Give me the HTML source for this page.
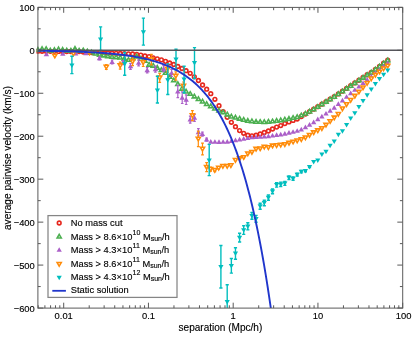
<!DOCTYPE html>
<html><head><meta charset="utf-8"><title>Average pairwise velocity</title><style>html,body{margin:0;padding:0;background:#fff;}body{width:415px;height:338px;overflow:hidden;font-family:"Liberation Sans",sans-serif;}svg{display:block;will-change:transform;}</style></head><body>
<svg width="415" height="338" viewBox="0 0 415 338" font-family="Liberation Sans, sans-serif" fill="#000"><style>text{stroke:#000;stroke-width:0.13px;}</style><defs><clipPath id="cp"><rect x="36.4" y="7.4" width="366.3" height="300.70000000000005"/></clipPath></defs><rect width="415" height="338" fill="#fff"/><g clip-path="url(#cp)">
<circle cx="37.95" cy="51.2" r="1.85" fill="#fff" stroke="#e6281e" stroke-width="1.6"/>
<circle cx="42.07" cy="51.24" r="1.85" fill="#fff" stroke="#e6281e" stroke-width="1.6"/>
<circle cx="46.18" cy="51.28" r="1.85" fill="#fff" stroke="#e6281e" stroke-width="1.6"/>
<circle cx="50.3" cy="51.32" r="1.85" fill="#fff" stroke="#e6281e" stroke-width="1.6"/>
<circle cx="54.41" cy="51.36" r="1.85" fill="#fff" stroke="#e6281e" stroke-width="1.6"/>
<circle cx="58.53" cy="51.4" r="1.85" fill="#fff" stroke="#e6281e" stroke-width="1.6"/>
<circle cx="62.64" cy="51.44" r="1.85" fill="#fff" stroke="#e6281e" stroke-width="1.6"/>
<circle cx="66.75" cy="51.48" r="1.85" fill="#fff" stroke="#e6281e" stroke-width="1.6"/>
<circle cx="70.87" cy="51.52" r="1.85" fill="#fff" stroke="#e6281e" stroke-width="1.6"/>
<circle cx="74.99" cy="51.56" r="1.85" fill="#fff" stroke="#e6281e" stroke-width="1.6"/>
<circle cx="79.1" cy="51.6" r="1.85" fill="#fff" stroke="#e6281e" stroke-width="1.6"/>
<circle cx="83.22" cy="52" r="1.85" fill="#fff" stroke="#e6281e" stroke-width="1.6"/>
<circle cx="87.33" cy="52.4" r="1.85" fill="#fff" stroke="#e6281e" stroke-width="1.6"/>
<circle cx="91.45" cy="52.55" r="1.85" fill="#fff" stroke="#e6281e" stroke-width="1.6"/>
<circle cx="95.56" cy="52.7" r="1.85" fill="#fff" stroke="#e6281e" stroke-width="1.6"/>
<circle cx="99.68" cy="52.85" r="1.85" fill="#fff" stroke="#e6281e" stroke-width="1.6"/>
<circle cx="103.79" cy="53" r="1.85" fill="#fff" stroke="#e6281e" stroke-width="1.6"/>
<circle cx="107.91" cy="53.12" r="1.85" fill="#fff" stroke="#e6281e" stroke-width="1.6"/>
<circle cx="112.02" cy="53.25" r="1.85" fill="#fff" stroke="#e6281e" stroke-width="1.6"/>
<circle cx="116.14" cy="53.38" r="1.85" fill="#fff" stroke="#e6281e" stroke-width="1.6"/>
<circle cx="120.25" cy="53.5" r="1.85" fill="#fff" stroke="#e6281e" stroke-width="1.6"/>
<circle cx="124.37" cy="53.67" r="1.85" fill="#fff" stroke="#e6281e" stroke-width="1.6"/>
<circle cx="128.48" cy="53.83" r="1.85" fill="#fff" stroke="#e6281e" stroke-width="1.6"/>
<circle cx="132.6" cy="54" r="1.85" fill="#fff" stroke="#e6281e" stroke-width="1.6"/>
<circle cx="136.71" cy="54.4" r="1.85" fill="#fff" stroke="#e6281e" stroke-width="1.6"/>
<circle cx="140.82" cy="55.1" r="1.85" fill="#fff" stroke="#e6281e" stroke-width="1.6"/>
<circle cx="144.94" cy="56" r="1.85" fill="#fff" stroke="#e6281e" stroke-width="1.6"/>
<circle cx="149.06" cy="56.6" r="1.85" fill="#fff" stroke="#e6281e" stroke-width="1.6"/>
<circle cx="153.17" cy="57.8" r="1.85" fill="#fff" stroke="#e6281e" stroke-width="1.6"/>
<circle cx="157.29" cy="58.8" r="1.85" fill="#fff" stroke="#e6281e" stroke-width="1.6"/>
<circle cx="161.4" cy="59.9" r="1.85" fill="#fff" stroke="#e6281e" stroke-width="1.6"/>
<circle cx="165.52" cy="61.33" r="1.85" fill="#fff" stroke="#e6281e" stroke-width="1.6"/>
<circle cx="169.63" cy="62.95" r="1.85" fill="#fff" stroke="#e6281e" stroke-width="1.6"/>
<circle cx="173.75" cy="64.47" r="1.85" fill="#fff" stroke="#e6281e" stroke-width="1.6"/>
<circle cx="177.86" cy="66.5" r="1.85" fill="#fff" stroke="#e6281e" stroke-width="1.6"/>
<circle cx="181.98" cy="68.5" r="1.85" fill="#fff" stroke="#e6281e" stroke-width="1.6"/>
<circle cx="186.09" cy="70.7" r="1.85" fill="#fff" stroke="#e6281e" stroke-width="1.6"/>
<circle cx="190.2" cy="73.3" r="1.85" fill="#fff" stroke="#e6281e" stroke-width="1.6"/>
<circle cx="194.32" cy="76.8" r="1.85" fill="#fff" stroke="#e6281e" stroke-width="1.6"/>
<circle cx="198.44" cy="80.5" r="1.85" fill="#fff" stroke="#e6281e" stroke-width="1.6"/>
<circle cx="202.55" cy="85" r="1.85" fill="#fff" stroke="#e6281e" stroke-width="1.6"/>
<circle cx="206.67" cy="89.2" r="1.85" fill="#fff" stroke="#e6281e" stroke-width="1.6"/>
<circle cx="210.78" cy="93.7" r="1.85" fill="#fff" stroke="#e6281e" stroke-width="1.6"/>
<circle cx="214.9" cy="99.3" r="1.85" fill="#fff" stroke="#e6281e" stroke-width="1.6"/>
<circle cx="219.01" cy="105.7" r="1.85" fill="#fff" stroke="#e6281e" stroke-width="1.6"/>
<circle cx="223.12" cy="111.6" r="1.85" fill="#fff" stroke="#e6281e" stroke-width="1.6"/>
<circle cx="227.24" cy="117.3" r="1.85" fill="#fff" stroke="#e6281e" stroke-width="1.6"/>
<circle cx="231.36" cy="122.3" r="1.85" fill="#fff" stroke="#e6281e" stroke-width="1.6"/>
<circle cx="235.47" cy="126.7" r="1.85" fill="#fff" stroke="#e6281e" stroke-width="1.6"/>
<circle cx="239.59" cy="130.6" r="1.85" fill="#fff" stroke="#e6281e" stroke-width="1.6"/>
<circle cx="243.7" cy="133.3" r="1.85" fill="#fff" stroke="#e6281e" stroke-width="1.6"/>
<circle cx="247.81" cy="135.2" r="1.85" fill="#fff" stroke="#e6281e" stroke-width="1.6"/>
<circle cx="251.93" cy="135.8" r="1.85" fill="#fff" stroke="#e6281e" stroke-width="1.6"/>
<circle cx="256.05" cy="135.2" r="1.85" fill="#fff" stroke="#e6281e" stroke-width="1.6"/>
<circle cx="260.16" cy="134" r="1.85" fill="#fff" stroke="#e6281e" stroke-width="1.6"/>
<circle cx="264.28" cy="132.5" r="1.85" fill="#fff" stroke="#e6281e" stroke-width="1.6"/>
<circle cx="268.39" cy="131" r="1.85" fill="#fff" stroke="#e6281e" stroke-width="1.6"/>
<circle cx="272.5" cy="129" r="1.85" fill="#fff" stroke="#e6281e" stroke-width="1.6"/>
<circle cx="276.62" cy="127.1" r="1.85" fill="#fff" stroke="#e6281e" stroke-width="1.6"/>
<circle cx="280.74" cy="125.6" r="1.85" fill="#fff" stroke="#e6281e" stroke-width="1.6"/>
<circle cx="284.85" cy="123.6" r="1.85" fill="#fff" stroke="#e6281e" stroke-width="1.6"/>
<circle cx="288.97" cy="121.9" r="1.85" fill="#fff" stroke="#e6281e" stroke-width="1.6"/>
<circle cx="293.08" cy="120.4" r="1.85" fill="#fff" stroke="#e6281e" stroke-width="1.6"/>
<circle cx="297.19" cy="119" r="1.85" fill="#fff" stroke="#e6281e" stroke-width="1.6"/>
<circle cx="301.31" cy="116.51" r="1.85" fill="#fff" stroke="#e6281e" stroke-width="1.6"/>
<circle cx="305.43" cy="114.06" r="1.85" fill="#fff" stroke="#e6281e" stroke-width="1.6"/>
<circle cx="309.54" cy="111.54" r="1.85" fill="#fff" stroke="#e6281e" stroke-width="1.6"/>
<circle cx="313.66" cy="109.22" r="1.85" fill="#fff" stroke="#e6281e" stroke-width="1.6"/>
<circle cx="317.77" cy="106.72" r="1.85" fill="#fff" stroke="#e6281e" stroke-width="1.6"/>
<circle cx="321.88" cy="104.13" r="1.85" fill="#fff" stroke="#e6281e" stroke-width="1.6"/>
<circle cx="326" cy="101.53" r="1.85" fill="#fff" stroke="#e6281e" stroke-width="1.6"/>
<circle cx="330.12" cy="99.06" r="1.85" fill="#fff" stroke="#e6281e" stroke-width="1.6"/>
<circle cx="334.23" cy="96.57" r="1.85" fill="#fff" stroke="#e6281e" stroke-width="1.6"/>
<circle cx="338.35" cy="93.89" r="1.85" fill="#fff" stroke="#e6281e" stroke-width="1.6"/>
<circle cx="342.46" cy="91.21" r="1.85" fill="#fff" stroke="#e6281e" stroke-width="1.6"/>
<circle cx="346.57" cy="88.41" r="1.85" fill="#fff" stroke="#e6281e" stroke-width="1.6"/>
<circle cx="350.69" cy="85.6" r="1.85" fill="#fff" stroke="#e6281e" stroke-width="1.6"/>
<circle cx="354.81" cy="82.97" r="1.85" fill="#fff" stroke="#e6281e" stroke-width="1.6"/>
<circle cx="358.92" cy="80.23" r="1.85" fill="#fff" stroke="#e6281e" stroke-width="1.6"/>
<circle cx="363.04" cy="77.5" r="1.85" fill="#fff" stroke="#e6281e" stroke-width="1.6"/>
<circle cx="367.15" cy="74.76" r="1.85" fill="#fff" stroke="#e6281e" stroke-width="1.6"/>
<circle cx="371.26" cy="72.29" r="1.85" fill="#fff" stroke="#e6281e" stroke-width="1.6"/>
<circle cx="375.38" cy="69.36" r="1.85" fill="#fff" stroke="#e6281e" stroke-width="1.6"/>
<circle cx="379.5" cy="66.31" r="1.85" fill="#fff" stroke="#e6281e" stroke-width="1.6"/>
<circle cx="383.61" cy="63.25" r="1.85" fill="#fff" stroke="#e6281e" stroke-width="1.6"/>
<circle cx="387.73" cy="60.2" r="1.85" fill="#fff" stroke="#e6281e" stroke-width="1.6"/>
<path d="M37.95 47.58L40.05 51.21L35.85 51.21Z" fill="#fff" stroke="#4caf50" stroke-width="1.55" stroke-linejoin="miter"/>
<path d="M42.07 46.88L44.17 50.51L39.97 50.51Z" fill="#fff" stroke="#4caf50" stroke-width="1.55" stroke-linejoin="miter"/>
<path d="M46.18 46.88L48.28 50.51L44.08 50.51Z" fill="#fff" stroke="#4caf50" stroke-width="1.55" stroke-linejoin="miter"/>
<path d="M50.3 48.38L52.4 52.01L48.2 52.01Z" fill="#fff" stroke="#4caf50" stroke-width="1.55" stroke-linejoin="miter"/>
<path d="M54.41 47.88L56.51 51.51L52.31 51.51Z" fill="#fff" stroke="#4caf50" stroke-width="1.55" stroke-linejoin="miter"/>
<path d="M58.53 47.08L60.63 50.71L56.43 50.71Z" fill="#fff" stroke="#4caf50" stroke-width="1.55" stroke-linejoin="miter"/>
<path d="M62.64 47.58L64.74 51.21L60.54 51.21Z" fill="#fff" stroke="#4caf50" stroke-width="1.55" stroke-linejoin="miter"/>
<path d="M66.75 48.38L68.85 52.01L64.66 52.01Z" fill="#fff" stroke="#4caf50" stroke-width="1.55" stroke-linejoin="miter"/>
<path d="M70.87 48.48L72.97 52.11L68.77 52.11Z" fill="#fff" stroke="#4caf50" stroke-width="1.55" stroke-linejoin="miter"/>
<path d="M74.99 46.58L77.09 50.21L72.89 50.21Z" fill="#fff" stroke="#4caf50" stroke-width="1.55" stroke-linejoin="miter"/>
<path d="M79.1 48.48L81.2 52.11L77 52.11Z" fill="#fff" stroke="#4caf50" stroke-width="1.55" stroke-linejoin="miter"/>
<path d="M83.22 48.18L85.31 51.81L81.12 51.81Z" fill="#fff" stroke="#4caf50" stroke-width="1.55" stroke-linejoin="miter"/>
<path d="M87.33 49.18L89.43 52.81L85.23 52.81Z" fill="#fff" stroke="#4caf50" stroke-width="1.55" stroke-linejoin="miter"/>
<path d="M91.45 50.18L93.55 53.81L89.35 53.81Z" fill="#fff" stroke="#4caf50" stroke-width="1.55" stroke-linejoin="miter"/>
<path d="M95.56 51.33L97.66 54.96L93.46 54.96Z" fill="#fff" stroke="#4caf50" stroke-width="1.55" stroke-linejoin="miter"/>
<path d="M99.68 52.48L101.78 56.11L97.58 56.11Z" fill="#fff" stroke="#4caf50" stroke-width="1.55" stroke-linejoin="miter"/>
<path d="M103.79 53.23L105.89 56.86L101.69 56.86Z" fill="#fff" stroke="#4caf50" stroke-width="1.55" stroke-linejoin="miter"/>
<path d="M107.91 53.98L110 57.61L105.81 57.61Z" fill="#fff" stroke="#4caf50" stroke-width="1.55" stroke-linejoin="miter"/>
<path d="M112.02 54.68L114.12 58.31L109.92 58.31Z" fill="#fff" stroke="#4caf50" stroke-width="1.55" stroke-linejoin="miter"/>
<path d="M116.14 55.03L118.23 58.66L114.04 58.66Z" fill="#fff" stroke="#4caf50" stroke-width="1.55" stroke-linejoin="miter"/>
<path d="M120.25 55.38L122.35 59.01L118.15 59.01Z" fill="#fff" stroke="#4caf50" stroke-width="1.55" stroke-linejoin="miter"/>
<path d="M124.37 56.53L126.47 60.16L122.27 60.16Z" fill="#fff" stroke="#4caf50" stroke-width="1.55" stroke-linejoin="miter"/>
<path d="M128.48 57.68L130.58 61.31L126.38 61.31Z" fill="#fff" stroke="#4caf50" stroke-width="1.55" stroke-linejoin="miter"/>
<path d="M132.6 55.98L134.7 59.61L130.5 59.61Z" fill="#fff" stroke="#4caf50" stroke-width="1.55" stroke-linejoin="miter"/>
<path d="M136.71 54.28L138.81 57.91L134.61 57.91Z" fill="#fff" stroke="#4caf50" stroke-width="1.55" stroke-linejoin="miter"/>
<path d="M140.82 56.58L142.92 60.21L138.72 60.21Z" fill="#fff" stroke="#4caf50" stroke-width="1.55" stroke-linejoin="miter"/>
<path d="M144.94 58.58L147.04 62.21L142.84 62.21Z" fill="#fff" stroke="#4caf50" stroke-width="1.55" stroke-linejoin="miter"/>
<path d="M149.06 62.48L151.16 66.11L146.96 66.11Z" fill="#fff" stroke="#4caf50" stroke-width="1.55" stroke-linejoin="miter"/>
<path d="M153.17 63.48L155.27 67.11L151.07 67.11Z" fill="#fff" stroke="#4caf50" stroke-width="1.55" stroke-linejoin="miter"/>
<path d="M157.29 65.58L159.39 69.21L155.19 69.21Z" fill="#fff" stroke="#4caf50" stroke-width="1.55" stroke-linejoin="miter"/>
<path d="M161.4 67.78L163.5 71.41L159.3 71.41Z" fill="#fff" stroke="#4caf50" stroke-width="1.55" stroke-linejoin="miter"/>
<path d="M165.52 70.58L167.62 74.21L163.42 74.21Z" fill="#fff" stroke="#4caf50" stroke-width="1.55" stroke-linejoin="miter"/>
<path d="M169.63 74.58L171.73 78.21L167.53 78.21Z" fill="#fff" stroke="#4caf50" stroke-width="1.55" stroke-linejoin="miter"/>
<path d="M173.75 78.18L175.84 81.81L171.65 81.81Z" fill="#fff" stroke="#4caf50" stroke-width="1.55" stroke-linejoin="miter"/>
<path d="M177.86 81.88L179.96 85.51L175.76 85.51Z" fill="#fff" stroke="#4caf50" stroke-width="1.55" stroke-linejoin="miter"/>
<path d="M181.98 86.48L184.08 90.11L179.88 90.11Z" fill="#fff" stroke="#4caf50" stroke-width="1.55" stroke-linejoin="miter"/>
<path d="M186.09 89.28L188.19 92.91L183.99 92.91Z" fill="#fff" stroke="#4caf50" stroke-width="1.55" stroke-linejoin="miter"/>
<path d="M190.2 91.68L192.3 95.31L188.1 95.31Z" fill="#fff" stroke="#4caf50" stroke-width="1.55" stroke-linejoin="miter"/>
<path d="M194.32 94.23L196.42 97.86L192.22 97.86Z" fill="#fff" stroke="#4caf50" stroke-width="1.55" stroke-linejoin="miter"/>
<path d="M198.44 96.78L200.53 100.41L196.34 100.41Z" fill="#fff" stroke="#4caf50" stroke-width="1.55" stroke-linejoin="miter"/>
<path d="M202.55 99.28L204.65 102.91L200.45 102.91Z" fill="#fff" stroke="#4caf50" stroke-width="1.55" stroke-linejoin="miter"/>
<path d="M206.67 101.78L208.77 105.41L204.57 105.41Z" fill="#fff" stroke="#4caf50" stroke-width="1.55" stroke-linejoin="miter"/>
<path d="M210.78 104.08L212.88 107.71L208.68 107.71Z" fill="#fff" stroke="#4caf50" stroke-width="1.55" stroke-linejoin="miter"/>
<path d="M214.9 106.38L217 110.01L212.8 110.01Z" fill="#fff" stroke="#4caf50" stroke-width="1.55" stroke-linejoin="miter"/>
<path d="M219.01 108.28L221.11 111.91L216.91 111.91Z" fill="#fff" stroke="#4caf50" stroke-width="1.55" stroke-linejoin="miter"/>
<path d="M223.12 110.18L225.22 113.81L221.03 113.81Z" fill="#fff" stroke="#4caf50" stroke-width="1.55" stroke-linejoin="miter"/>
<path d="M227.24 112.23L229.34 115.86L225.14 115.86Z" fill="#fff" stroke="#4caf50" stroke-width="1.55" stroke-linejoin="miter"/>
<path d="M231.36 114.28L233.46 117.91L229.26 117.91Z" fill="#fff" stroke="#4caf50" stroke-width="1.55" stroke-linejoin="miter"/>
<path d="M235.47 115.38L237.57 119.01L233.37 119.01Z" fill="#fff" stroke="#4caf50" stroke-width="1.55" stroke-linejoin="miter"/>
<path d="M239.59 116.48L241.69 120.11L237.49 120.11Z" fill="#fff" stroke="#4caf50" stroke-width="1.55" stroke-linejoin="miter"/>
<path d="M243.7 117.53L245.8 121.16L241.6 121.16Z" fill="#fff" stroke="#4caf50" stroke-width="1.55" stroke-linejoin="miter"/>
<path d="M247.81 118.58L249.91 122.21L245.72 122.21Z" fill="#fff" stroke="#4caf50" stroke-width="1.55" stroke-linejoin="miter"/>
<path d="M251.93 119.08L254.03 122.71L249.83 122.71Z" fill="#fff" stroke="#4caf50" stroke-width="1.55" stroke-linejoin="miter"/>
<path d="M256.05 119.58L258.15 123.21L253.95 123.21Z" fill="#fff" stroke="#4caf50" stroke-width="1.55" stroke-linejoin="miter"/>
<path d="M260.16 119.68L262.26 123.31L258.06 123.31Z" fill="#fff" stroke="#4caf50" stroke-width="1.55" stroke-linejoin="miter"/>
<path d="M264.28 119.78L266.38 123.41L262.18 123.41Z" fill="#fff" stroke="#4caf50" stroke-width="1.55" stroke-linejoin="miter"/>
<path d="M268.39 119.48L270.49 123.11L266.29 123.11Z" fill="#fff" stroke="#4caf50" stroke-width="1.55" stroke-linejoin="miter"/>
<path d="M272.5 119.18L274.61 122.81L270.4 122.81Z" fill="#fff" stroke="#4caf50" stroke-width="1.55" stroke-linejoin="miter"/>
<path d="M276.62 118.63L278.72 122.26L274.52 122.26Z" fill="#fff" stroke="#4caf50" stroke-width="1.55" stroke-linejoin="miter"/>
<path d="M280.74 118.08L282.84 121.71L278.63 121.71Z" fill="#fff" stroke="#4caf50" stroke-width="1.55" stroke-linejoin="miter"/>
<path d="M284.85 117.33L286.95 120.96L282.75 120.96Z" fill="#fff" stroke="#4caf50" stroke-width="1.55" stroke-linejoin="miter"/>
<path d="M288.97 116.58L291.07 120.21L286.87 120.21Z" fill="#fff" stroke="#4caf50" stroke-width="1.55" stroke-linejoin="miter"/>
<path d="M293.08 115.68L295.18 119.31L290.98 119.31Z" fill="#fff" stroke="#4caf50" stroke-width="1.55" stroke-linejoin="miter"/>
<path d="M297.19 114.78L299.3 118.41L295.09 118.41Z" fill="#fff" stroke="#4caf50" stroke-width="1.55" stroke-linejoin="miter"/>
<path d="M301.31 113.19L303.41 116.82L299.21 116.82Z" fill="#fff" stroke="#4caf50" stroke-width="1.55" stroke-linejoin="miter"/>
<path d="M305.43 111.44L307.53 115.08L303.32 115.08Z" fill="#fff" stroke="#4caf50" stroke-width="1.55" stroke-linejoin="miter"/>
<path d="M309.54 109.32L311.64 112.96L307.44 112.96Z" fill="#fff" stroke="#4caf50" stroke-width="1.55" stroke-linejoin="miter"/>
<path d="M313.66 107.2L315.76 110.84L311.56 110.84Z" fill="#fff" stroke="#4caf50" stroke-width="1.55" stroke-linejoin="miter"/>
<path d="M317.77 104.7L319.87 108.34L315.67 108.34Z" fill="#fff" stroke="#4caf50" stroke-width="1.55" stroke-linejoin="miter"/>
<path d="M321.88 102.1L323.99 105.74L319.78 105.74Z" fill="#fff" stroke="#4caf50" stroke-width="1.55" stroke-linejoin="miter"/>
<path d="M326 99.51L328.1 103.14L323.9 103.14Z" fill="#fff" stroke="#4caf50" stroke-width="1.55" stroke-linejoin="miter"/>
<path d="M330.12 97.04L332.22 100.67L328.01 100.67Z" fill="#fff" stroke="#4caf50" stroke-width="1.55" stroke-linejoin="miter"/>
<path d="M334.23 94.54L336.33 98.18L332.13 98.18Z" fill="#fff" stroke="#4caf50" stroke-width="1.55" stroke-linejoin="miter"/>
<path d="M338.35 91.87L340.45 95.5L336.25 95.5Z" fill="#fff" stroke="#4caf50" stroke-width="1.55" stroke-linejoin="miter"/>
<path d="M342.46 89.19L344.56 92.82L340.36 92.82Z" fill="#fff" stroke="#4caf50" stroke-width="1.55" stroke-linejoin="miter"/>
<path d="M346.57 86.38L348.68 90.02L344.47 90.02Z" fill="#fff" stroke="#4caf50" stroke-width="1.55" stroke-linejoin="miter"/>
<path d="M350.69 83.58L352.79 87.21L348.59 87.21Z" fill="#fff" stroke="#4caf50" stroke-width="1.55" stroke-linejoin="miter"/>
<path d="M354.81 80.94L356.91 84.58L352.7 84.58Z" fill="#fff" stroke="#4caf50" stroke-width="1.55" stroke-linejoin="miter"/>
<path d="M358.92 78.21L361.02 81.84L356.82 81.84Z" fill="#fff" stroke="#4caf50" stroke-width="1.55" stroke-linejoin="miter"/>
<path d="M363.04 75.47L365.14 79.11L360.94 79.11Z" fill="#fff" stroke="#4caf50" stroke-width="1.55" stroke-linejoin="miter"/>
<path d="M367.15 72.74L369.25 76.37L365.05 76.37Z" fill="#fff" stroke="#4caf50" stroke-width="1.55" stroke-linejoin="miter"/>
<path d="M371.26 70.27L373.37 73.91L369.16 73.91Z" fill="#fff" stroke="#4caf50" stroke-width="1.55" stroke-linejoin="miter"/>
<path d="M375.38 67.33L377.48 70.97L373.28 70.97Z" fill="#fff" stroke="#4caf50" stroke-width="1.55" stroke-linejoin="miter"/>
<path d="M379.5 64.28L381.6 67.92L377.39 67.92Z" fill="#fff" stroke="#4caf50" stroke-width="1.55" stroke-linejoin="miter"/>
<path d="M383.61 61.23L385.71 64.87L381.51 64.87Z" fill="#fff" stroke="#4caf50" stroke-width="1.55" stroke-linejoin="miter"/>
<path d="M387.73 58.18L389.83 61.81L385.62 61.81Z" fill="#fff" stroke="#4caf50" stroke-width="1.55" stroke-linejoin="miter"/>
<path d="M46.4 51.48L49.1 56.16L43.7 56.16Z" fill="#ab5fc8"/>
<path d="M62.8 51.08L65.5 55.76L60.1 55.76Z" fill="#ab5fc8"/>
<path d="M75.7 50.88L78.4 55.56L73 55.56Z" fill="#ab5fc8"/>
<path d="M85.9 50.68L88.6 55.36L83.2 55.36Z" fill="#ab5fc8"/>
<path d="M99.5 56.8V59.8M98.2 56.8H100.8M98.2 59.8H100.8" fill="none" stroke="#ab5fc8" stroke-width="1.2"/>
<path d="M99.5 55.58L102.2 60.26L96.8 60.26Z" fill="#ab5fc8"/>
<path d="M112.1 60V64M110.8 60H113.4M110.8 64H113.4" fill="none" stroke="#ab5fc8" stroke-width="1.2"/>
<path d="M112.1 59.28L114.8 63.96L109.4 63.96Z" fill="#ab5fc8"/>
<path d="M123 60.6V64.6M121.7 60.6H124.3M121.7 64.6H124.3" fill="none" stroke="#ab5fc8" stroke-width="1.2"/>
<path d="M123 59.88L125.7 64.56L120.3 64.56Z" fill="#ab5fc8"/>
<path d="M130.5 63.3V69.3M129.2 63.3H131.8M129.2 69.3H131.8" fill="none" stroke="#ab5fc8" stroke-width="1.2"/>
<path d="M130.5 63.58L133.2 68.26L127.8 68.26Z" fill="#ab5fc8"/>
<path d="M138.6 59.9V65.9M137.3 59.9H139.9M137.3 65.9H139.9" fill="none" stroke="#ab5fc8" stroke-width="1.2"/>
<path d="M138.6 60.18L141.3 64.86L135.9 64.86Z" fill="#ab5fc8"/>
<path d="M147.2 67.5V72.9M145.9 67.5H148.5M145.9 72.9H148.5" fill="none" stroke="#ab5fc8" stroke-width="1.2"/>
<path d="M147.2 67.48L149.9 72.16L144.5 72.16Z" fill="#ab5fc8"/>
<path d="M155.4 66.2V72.2M154.1 66.2H156.7M154.1 72.2H156.7" fill="none" stroke="#ab5fc8" stroke-width="1.2"/>
<path d="M155.4 66.48L158.1 71.16L152.7 71.16Z" fill="#ab5fc8"/>
<path d="M163.6 65.7V71.7M162.3 65.7H164.9M162.3 71.7H164.9" fill="none" stroke="#ab5fc8" stroke-width="1.2"/>
<path d="M163.6 65.98L166.3 70.66L160.9 70.66Z" fill="#ab5fc8"/>
<path d="M171.6 69.5V76.5M170.3 69.5H172.9M170.3 76.5H172.9" fill="none" stroke="#ab5fc8" stroke-width="1.2"/>
<path d="M171.6 70.28L174.3 74.96L168.9 74.96Z" fill="#ab5fc8"/>
<path d="M177.8 85.3V97.7M176.5 85.3H179.1M176.5 97.7H179.1" fill="none" stroke="#ab5fc8" stroke-width="1.2"/>
<path d="M177.8 88.78L180.5 93.46L175.1 93.46Z" fill="#ab5fc8"/>
<path d="M182.2 91.9V103.5M180.9 91.9H183.5M180.9 103.5H183.5" fill="none" stroke="#ab5fc8" stroke-width="1.2"/>
<path d="M182.2 94.98L184.9 99.66L179.5 99.66Z" fill="#ab5fc8"/>
<path d="M186.2 94.9V104.5M184.9 94.9H187.5M184.9 104.5H187.5" fill="none" stroke="#ab5fc8" stroke-width="1.2"/>
<path d="M186.2 96.98L188.9 101.66L183.5 101.66Z" fill="#ab5fc8"/>
<path d="M190.2 116.1V123.1M188.9 116.1H191.5M188.9 123.1H191.5" fill="none" stroke="#ab5fc8" stroke-width="1.2"/>
<path d="M190.2 116.88L192.9 121.56L187.5 121.56Z" fill="#ab5fc8"/>
<path d="M194.5 114.4V121.4M193.2 114.4H195.8M193.2 121.4H195.8" fill="none" stroke="#ab5fc8" stroke-width="1.2"/>
<path d="M194.5 115.18L197.2 119.86L191.8 119.86Z" fill="#ab5fc8"/>
<path d="M198.4 128.7V135.9M197.1 128.7H199.7M197.1 135.9H199.7" fill="none" stroke="#ab5fc8" stroke-width="1.2"/>
<path d="M198.4 129.58L201.1 134.26L195.7 134.26Z" fill="#ab5fc8"/>
<path d="M202.4 132.1V136.1M201.1 132.1H203.7M201.1 136.1H203.7" fill="none" stroke="#ab5fc8" stroke-width="1.2"/>
<path d="M202.4 131.38L205.1 136.06L199.7 136.06Z" fill="#ab5fc8"/>
<path d="M206.6 138.1V141.1M205.3 138.1H207.9M205.3 141.1H207.9" fill="none" stroke="#ab5fc8" stroke-width="1.2"/>
<path d="M206.6 136.88L209.3 141.56L203.9 141.56Z" fill="#ab5fc8"/>
<path d="M210.78 139.08L213.48 143.76L208.08 143.76Z" fill="#ab5fc8"/>
<path d="M214.9 139.18L217.6 143.86L212.2 143.86Z" fill="#ab5fc8"/>
<path d="M219.01 139.28L221.71 143.96L216.31 143.96Z" fill="#ab5fc8"/>
<path d="M223.12 139.18L225.82 143.86L220.43 143.86Z" fill="#ab5fc8"/>
<path d="M227.24 139.08L229.94 143.76L224.54 143.76Z" fill="#ab5fc8"/>
<path d="M231.36 138.28L234.06 142.96L228.66 142.96Z" fill="#ab5fc8"/>
<path d="M235.47 137.48L238.17 142.16L232.77 142.16Z" fill="#ab5fc8"/>
<path d="M239.59 136.78L242.29 141.46L236.89 141.46Z" fill="#ab5fc8"/>
<path d="M243.7 136.08L246.4 140.76L241 140.76Z" fill="#ab5fc8"/>
<path d="M247.81 135.38L250.51 140.06L245.12 140.06Z" fill="#ab5fc8"/>
<path d="M251.93 134.68L254.63 139.36L249.23 139.36Z" fill="#ab5fc8"/>
<path d="M256.05 134.41L258.75 139.09L253.35 139.09Z" fill="#ab5fc8"/>
<path d="M260.16 134.14L262.86 138.82L257.46 138.82Z" fill="#ab5fc8"/>
<path d="M264.28 133.87L266.98 138.55L261.58 138.55Z" fill="#ab5fc8"/>
<path d="M268.39 133.5L271.09 138.18L265.69 138.18Z" fill="#ab5fc8"/>
<path d="M272.5 132.91L275.2 137.59L269.81 137.59Z" fill="#ab5fc8"/>
<path d="M276.62 132.31L279.32 136.99L273.92 136.99Z" fill="#ab5fc8"/>
<path d="M280.74 131.72L283.44 136.39L278.04 136.39Z" fill="#ab5fc8"/>
<path d="M284.85 131.09L287.55 135.76L282.15 135.76Z" fill="#ab5fc8"/>
<path d="M288.97 130.12L291.67 134.79L286.27 134.79Z" fill="#ab5fc8"/>
<path d="M293.08 129.15L295.78 133.83L290.38 133.83Z" fill="#ab5fc8"/>
<path d="M297.19 128.18L299.89 132.86L294.5 132.86Z" fill="#ab5fc8"/>
<path d="M301.31 126.72L304.01 131.39L298.61 131.39Z" fill="#ab5fc8"/>
<path d="M305.43 124.62L308.12 129.29L302.73 129.29Z" fill="#ab5fc8"/>
<path d="M309.54 122.08L312.24 126.76L306.84 126.76Z" fill="#ab5fc8"/>
<path d="M313.66 119.55L316.36 124.23L310.96 124.23Z" fill="#ab5fc8"/>
<path d="M317.77 116.6L320.47 121.28L315.07 121.28Z" fill="#ab5fc8"/>
<path d="M321.88 113.75L324.58 118.43L319.19 118.43Z" fill="#ab5fc8"/>
<path d="M326 110.9L328.7 115.58L323.3 115.58Z" fill="#ab5fc8"/>
<path d="M330.12 108.05L332.81 112.72L327.42 112.72Z" fill="#ab5fc8"/>
<path d="M334.23 105.1L336.93 109.78L331.53 109.78Z" fill="#ab5fc8"/>
<path d="M338.35 101.32L341.05 106L335.65 106Z" fill="#ab5fc8"/>
<path d="M342.46 97.74L345.16 102.42L339.76 102.42Z" fill="#ab5fc8"/>
<path d="M346.57 94.16L349.27 98.83L343.88 98.83Z" fill="#ab5fc8"/>
<path d="M350.69 90.57L353.39 95.25L347.99 95.25Z" fill="#ab5fc8"/>
<path d="M354.81 87.15L357.5 91.83L352.11 91.83Z" fill="#ab5fc8"/>
<path d="M358.92 83.9L361.62 88.57L356.22 88.57Z" fill="#ab5fc8"/>
<path d="M363.04 80.44L365.74 85.12L360.34 85.12Z" fill="#ab5fc8"/>
<path d="M367.15 76.98L369.85 81.66L364.45 81.66Z" fill="#ab5fc8"/>
<path d="M371.26 73.7L373.96 78.38L368.56 78.38Z" fill="#ab5fc8"/>
<path d="M375.38 70.42L378.08 75.1L372.68 75.1Z" fill="#ab5fc8"/>
<path d="M379.5 67.14L382.19 71.82L376.8 71.82Z" fill="#ab5fc8"/>
<path d="M383.61 63.86L386.31 68.54L380.91 68.54Z" fill="#ab5fc8"/>
<path d="M387.73 60.58L390.43 65.26L385.03 65.26Z" fill="#ab5fc8"/>
<path d="M54.8 57.82L56.9 54.19L52.7 54.19Z" fill="#fff" stroke="#ff8c0a" stroke-width="1.55" stroke-linejoin="miter"/>
<path d="M73.4 55.72L75.5 52.09L71.3 52.09Z" fill="#fff" stroke="#ff8c0a" stroke-width="1.55" stroke-linejoin="miter"/>
<path d="M89.6 54.62L91.7 50.99L87.5 50.99Z" fill="#fff" stroke="#ff8c0a" stroke-width="1.55" stroke-linejoin="miter"/>
<path d="M106.3 64.5V69.5M104.9 64.5H107.7M104.9 69.5H107.7" fill="none" stroke="#ff8c0a" stroke-width="1.2"/>
<path d="M106.3 68.92L108.4 65.29L104.2 65.29Z" fill="#fff" stroke="#ff8c0a" stroke-width="1.55" stroke-linejoin="miter"/>
<path d="M120.2 62.1V69.1M118.8 62.1H121.6M118.8 69.1H121.6" fill="none" stroke="#ff8c0a" stroke-width="1.2"/>
<path d="M120.2 67.52L122.3 63.89L118.1 63.89Z" fill="#fff" stroke="#ff8c0a" stroke-width="1.55" stroke-linejoin="miter"/>
<path d="M132.6 57.6V65.6M131.2 57.6H134M131.2 65.6H134" fill="none" stroke="#ff8c0a" stroke-width="1.2"/>
<path d="M132.6 63.52L134.7 59.89L130.5 59.89Z" fill="#fff" stroke="#ff8c0a" stroke-width="1.55" stroke-linejoin="miter"/>
<path d="M143.2 58.5V66.5M141.8 58.5H144.6M141.8 66.5H144.6" fill="none" stroke="#ff8c0a" stroke-width="1.2"/>
<path d="M143.2 64.42L145.3 60.79L141.1 60.79Z" fill="#fff" stroke="#ff8c0a" stroke-width="1.55" stroke-linejoin="miter"/>
<path d="M151.4 54.3V64.9M150 54.3H152.8M150 64.9H152.8" fill="none" stroke="#ff8c0a" stroke-width="1.2"/>
<path d="M151.4 61.52L153.5 57.89L149.3 57.89Z" fill="#fff" stroke="#ff8c0a" stroke-width="1.55" stroke-linejoin="miter"/>
<path d="M159.7 73.3V82.3M158.3 73.3H161.1M158.3 82.3H161.1" fill="none" stroke="#ff8c0a" stroke-width="1.2"/>
<path d="M159.7 79.72L161.8 76.09L157.6 76.09Z" fill="#fff" stroke="#ff8c0a" stroke-width="1.55" stroke-linejoin="miter"/>
<path d="M167.6 65.8V72.2M166.2 65.8H169M166.2 72.2H169" fill="none" stroke="#ff8c0a" stroke-width="1.2"/>
<path d="M167.6 70.92L169.7 67.29L165.5 67.29Z" fill="#fff" stroke="#ff8c0a" stroke-width="1.55" stroke-linejoin="miter"/>
<path d="M175.8 71.8V80.2M174.4 71.8H177.2M174.4 80.2H177.2" fill="none" stroke="#ff8c0a" stroke-width="1.2"/>
<path d="M175.8 77.92L177.9 74.29L173.7 74.29Z" fill="#fff" stroke="#ff8c0a" stroke-width="1.55" stroke-linejoin="miter"/>
<path d="M183.5 82V90M182.1 82H184.9M182.1 90H184.9" fill="none" stroke="#ff8c0a" stroke-width="1.2"/>
<path d="M183.5 87.92L185.6 84.29L181.4 84.29Z" fill="#fff" stroke="#ff8c0a" stroke-width="1.55" stroke-linejoin="miter"/>
<path d="M192.4 110.6V120.6M191 110.6H193.8M191 120.6H193.8" fill="none" stroke="#ff8c0a" stroke-width="1.2"/>
<path d="M192.4 117.52L194.5 113.89L190.3 113.89Z" fill="#fff" stroke="#ff8c0a" stroke-width="1.55" stroke-linejoin="miter"/>
<path d="M198.3 131.2V146.6M196.9 131.2H199.7M196.9 146.6H199.7" fill="none" stroke="#ff8c0a" stroke-width="1.2"/>
<path d="M198.3 140.82L200.4 137.19L196.2 137.19Z" fill="#fff" stroke="#ff8c0a" stroke-width="1.55" stroke-linejoin="miter"/>
<path d="M202.5 143.2V154.8M201.1 143.2H203.9M201.1 154.8H203.9" fill="none" stroke="#ff8c0a" stroke-width="1.2"/>
<path d="M202.5 150.92L204.6 147.29L200.4 147.29Z" fill="#fff" stroke="#ff8c0a" stroke-width="1.55" stroke-linejoin="miter"/>
<path d="M206.6 162.7V171.7M205.2 162.7H208M205.2 171.7H208" fill="none" stroke="#ff8c0a" stroke-width="1.2"/>
<path d="M206.6 169.12L208.7 165.49L204.5 165.49Z" fill="#fff" stroke="#ff8c0a" stroke-width="1.55" stroke-linejoin="miter"/>
<path d="M210.6 167.2V171.2M209.2 167.2H212M209.2 171.2H212" fill="none" stroke="#ff8c0a" stroke-width="1.2"/>
<path d="M210.6 171.12L212.7 167.49L208.5 167.49Z" fill="#fff" stroke="#ff8c0a" stroke-width="1.55" stroke-linejoin="miter"/>
<path d="M214.8 168.7V171.7M213.4 168.7H216.2M213.4 171.7H216.2" fill="none" stroke="#ff8c0a" stroke-width="1.2"/>
<path d="M214.8 172.12L216.9 168.49L212.7 168.49Z" fill="#fff" stroke="#ff8c0a" stroke-width="1.55" stroke-linejoin="miter"/>
<path d="M218.7 167V169M217.3 167H220.1M217.3 169H220.1" fill="none" stroke="#ff8c0a" stroke-width="1.2"/>
<path d="M218.7 169.92L220.8 166.29L216.6 166.29Z" fill="#fff" stroke="#ff8c0a" stroke-width="1.55" stroke-linejoin="miter"/>
<path d="M222.9 168.22L225 164.59L220.8 164.59Z" fill="#fff" stroke="#ff8c0a" stroke-width="1.55" stroke-linejoin="miter"/>
<path d="M227.2 168.22L229.3 164.59L225.1 164.59Z" fill="#fff" stroke="#ff8c0a" stroke-width="1.55" stroke-linejoin="miter"/>
<path d="M230.9 167.42L233 163.79L228.8 163.79Z" fill="#fff" stroke="#ff8c0a" stroke-width="1.55" stroke-linejoin="miter"/>
<path d="M235.47 162.22L237.57 158.59L233.37 158.59Z" fill="#fff" stroke="#ff8c0a" stroke-width="1.55" stroke-linejoin="miter"/>
<path d="M239.59 160.52L241.69 156.89L237.49 156.89Z" fill="#fff" stroke="#ff8c0a" stroke-width="1.55" stroke-linejoin="miter"/>
<path d="M243.7 159.32L245.8 155.69L241.6 155.69Z" fill="#fff" stroke="#ff8c0a" stroke-width="1.55" stroke-linejoin="miter"/>
<path d="M247.81 155.62L249.91 151.99L245.72 151.99Z" fill="#fff" stroke="#ff8c0a" stroke-width="1.55" stroke-linejoin="miter"/>
<path d="M251.93 154.12L254.03 150.49L249.83 150.49Z" fill="#fff" stroke="#ff8c0a" stroke-width="1.55" stroke-linejoin="miter"/>
<path d="M256.05 151.02L258.15 147.39L253.95 147.39Z" fill="#fff" stroke="#ff8c0a" stroke-width="1.55" stroke-linejoin="miter"/>
<path d="M260.16 150.56L262.26 146.92L258.06 146.92Z" fill="#fff" stroke="#ff8c0a" stroke-width="1.55" stroke-linejoin="miter"/>
<path d="M264.28 148.9L266.38 145.26L262.18 145.26Z" fill="#fff" stroke="#ff8c0a" stroke-width="1.55" stroke-linejoin="miter"/>
<path d="M268.39 149.45L270.49 145.82L266.29 145.82Z" fill="#fff" stroke="#ff8c0a" stroke-width="1.55" stroke-linejoin="miter"/>
<path d="M272.5 147.75L274.61 144.11L270.4 144.11Z" fill="#fff" stroke="#ff8c0a" stroke-width="1.55" stroke-linejoin="miter"/>
<path d="M276.62 147.44L278.72 143.81L274.52 143.81Z" fill="#fff" stroke="#ff8c0a" stroke-width="1.55" stroke-linejoin="miter"/>
<path d="M280.74 146.84L282.84 143.2L278.63 143.2Z" fill="#fff" stroke="#ff8c0a" stroke-width="1.55" stroke-linejoin="miter"/>
<path d="M284.85 146.39L286.95 142.75L282.75 142.75Z" fill="#fff" stroke="#ff8c0a" stroke-width="1.55" stroke-linejoin="miter"/>
<path d="M288.97 144.99L291.07 141.36L286.87 141.36Z" fill="#fff" stroke="#ff8c0a" stroke-width="1.55" stroke-linejoin="miter"/>
<path d="M293.08 143.8L295.18 140.17L290.98 140.17Z" fill="#fff" stroke="#ff8c0a" stroke-width="1.55" stroke-linejoin="miter"/>
<path d="M297.19 142.61L299.3 138.97L295.09 138.97Z" fill="#fff" stroke="#ff8c0a" stroke-width="1.55" stroke-linejoin="miter"/>
<path d="M301.31 141.42L303.41 137.78L299.21 137.78Z" fill="#fff" stroke="#ff8c0a" stroke-width="1.55" stroke-linejoin="miter"/>
<path d="M305.43 139.59L307.53 135.95L303.32 135.95Z" fill="#fff" stroke="#ff8c0a" stroke-width="1.55" stroke-linejoin="miter"/>
<path d="M309.54 137.12L311.64 133.49L307.44 133.49Z" fill="#fff" stroke="#ff8c0a" stroke-width="1.55" stroke-linejoin="miter"/>
<path d="M313.66 134.49L315.76 130.85L311.56 130.85Z" fill="#fff" stroke="#ff8c0a" stroke-width="1.55" stroke-linejoin="miter"/>
<path d="M317.77 132.52L319.87 128.89L315.67 128.89Z" fill="#fff" stroke="#ff8c0a" stroke-width="1.55" stroke-linejoin="miter"/>
<path d="M321.88 130.38L323.99 126.74L319.78 126.74Z" fill="#fff" stroke="#ff8c0a" stroke-width="1.55" stroke-linejoin="miter"/>
<path d="M326 126.83L328.1 123.2L323.9 123.2Z" fill="#fff" stroke="#ff8c0a" stroke-width="1.55" stroke-linejoin="miter"/>
<path d="M330.12 123.29L332.22 119.66L328.01 119.66Z" fill="#fff" stroke="#ff8c0a" stroke-width="1.55" stroke-linejoin="miter"/>
<path d="M334.23 119.75L336.33 116.11L332.13 116.11Z" fill="#fff" stroke="#ff8c0a" stroke-width="1.55" stroke-linejoin="miter"/>
<path d="M338.35 116.22L340.45 112.59L336.25 112.59Z" fill="#fff" stroke="#ff8c0a" stroke-width="1.55" stroke-linejoin="miter"/>
<path d="M342.46 110.62L344.56 106.99L340.36 106.99Z" fill="#fff" stroke="#ff8c0a" stroke-width="1.55" stroke-linejoin="miter"/>
<path d="M346.57 106.42L348.68 102.79L344.47 102.79Z" fill="#fff" stroke="#ff8c0a" stroke-width="1.55" stroke-linejoin="miter"/>
<path d="M350.69 102.22L352.79 98.59L348.59 98.59Z" fill="#fff" stroke="#ff8c0a" stroke-width="1.55" stroke-linejoin="miter"/>
<path d="M354.81 98.02L356.91 94.39L352.7 94.39Z" fill="#fff" stroke="#ff8c0a" stroke-width="1.55" stroke-linejoin="miter"/>
<path d="M358.92 93.82L361.02 90.19L356.82 90.19Z" fill="#fff" stroke="#ff8c0a" stroke-width="1.55" stroke-linejoin="miter"/>
<path d="M363.04 89.62L365.14 85.99L360.94 85.99Z" fill="#fff" stroke="#ff8c0a" stroke-width="1.55" stroke-linejoin="miter"/>
<path d="M367.15 85.22L369.25 81.59L365.05 81.59Z" fill="#fff" stroke="#ff8c0a" stroke-width="1.55" stroke-linejoin="miter"/>
<path d="M371.26 80.72L373.37 77.09L369.16 77.09Z" fill="#fff" stroke="#ff8c0a" stroke-width="1.55" stroke-linejoin="miter"/>
<path d="M375.38 77.02L377.48 73.39L373.28 73.39Z" fill="#fff" stroke="#ff8c0a" stroke-width="1.55" stroke-linejoin="miter"/>
<path d="M379.5 73.82L381.6 70.19L377.39 70.19Z" fill="#fff" stroke="#ff8c0a" stroke-width="1.55" stroke-linejoin="miter"/>
<path d="M383.61 70.72L385.71 67.09L381.51 67.09Z" fill="#fff" stroke="#ff8c0a" stroke-width="1.55" stroke-linejoin="miter"/>
<path d="M387.73 67.92L389.83 64.29L385.62 64.29Z" fill="#fff" stroke="#ff8c0a" stroke-width="1.55" stroke-linejoin="miter"/>
<path d="M71.9 56.2V73.6M70.3 56.2H73.5M70.3 73.6H73.5" fill="none" stroke="#00bebe" stroke-width="1.4"/>
<path d="M71.9 68L74.5 63.5L69.3 63.5Z" fill="#00bebe"/>
<path d="M100.6 26.9V50.5M99 26.9H102.2M99 50.5H102.2" fill="none" stroke="#00bebe" stroke-width="1.4"/>
<path d="M100.6 41.9L103.2 37.4L98 37.4Z" fill="#00bebe"/>
<path d="M124.7 52.5V75.2M123.1 52.5H126.3M123.1 75.2H126.3" fill="none" stroke="#00bebe" stroke-width="1.4"/>
<path d="M124.7 66.6L127.3 62.1L122.1 62.1Z" fill="#00bebe"/>
<path d="M143.4 18.1V45.1M141.8 18.1H145M141.8 45.1H145" fill="none" stroke="#00bebe" stroke-width="1.4"/>
<path d="M143.4 34.7L146 30.2L140.8 30.2Z" fill="#00bebe"/>
<path d="M157.4 76.2V103M155.8 76.2H159M155.8 103H159" fill="none" stroke="#00bebe" stroke-width="1.4"/>
<path d="M157.4 93L160 88.5L154.8 88.5Z" fill="#00bebe"/>
<path d="M167.8 63.9V94.5M166.2 63.9H169.4M166.2 94.5H169.4" fill="none" stroke="#00bebe" stroke-width="1.4"/>
<path d="M167.8 82.8L170.4 78.3L165.2 78.3Z" fill="#00bebe"/>
<path d="M176 49.3V69.7M174.4 49.3H177.6M174.4 69.7H177.6" fill="none" stroke="#00bebe" stroke-width="1.4"/>
<path d="M176 62.1L178.6 57.6L173.4 57.6Z" fill="#00bebe"/>
<path d="M184.1 66.3V92.7M182.5 66.3H185.7M182.5 92.7H185.7" fill="none" stroke="#00bebe" stroke-width="1.4"/>
<path d="M184.1 82.1L186.7 77.6L181.5 77.6Z" fill="#00bebe"/>
<path d="M194.5 47.6V78.5M192.9 47.6H196.1M192.9 78.5H196.1" fill="none" stroke="#00bebe" stroke-width="1.4"/>
<path d="M194.5 65.6L197.1 61.1L191.9 61.1Z" fill="#00bebe"/>
<path d="M209.2 144.4V175.6M207.6 144.4H210.8M207.6 175.6H210.8" fill="none" stroke="#00bebe" stroke-width="1.4"/>
<path d="M209.2 163L211.8 158.5L206.6 158.5Z" fill="#00bebe"/>
<path d="M220.9 245.5V288M219.3 245.5H222.5M219.3 288H222.5" fill="none" stroke="#00bebe" stroke-width="1.4"/>
<path d="M220.9 269.4L223.5 264.9L218.3 264.9Z" fill="#00bebe"/>
<path d="M227.2 284.8V320M225.6 284.8H228.8M225.6 320H228.8" fill="none" stroke="#00bebe" stroke-width="1.4"/>
<path d="M227.2 304.6L229.8 300.1L224.6 300.1Z" fill="#00bebe"/>
<path d="M231.36 258.5V273.1M229.76 258.5H232.96M229.76 273.1H232.96" fill="none" stroke="#00bebe" stroke-width="1.4"/>
<path d="M231.36 268.4L233.96 263.9L228.76 263.9Z" fill="#00bebe"/>
<path d="M235.47 247.7V259.3M233.87 247.7H237.07M233.87 259.3H237.07" fill="none" stroke="#00bebe" stroke-width="1.4"/>
<path d="M235.47 256.1L238.07 251.6L232.87 251.6Z" fill="#00bebe"/>
<path d="M239.59 233.2V242M237.99 233.2H241.19M237.99 242H241.19" fill="none" stroke="#00bebe" stroke-width="1.4"/>
<path d="M239.59 240.2L242.19 235.7L236.99 235.7Z" fill="#00bebe"/>
<path d="M243.7 225.8V234.4M242.1 225.8H245.3M242.1 234.4H245.3" fill="none" stroke="#00bebe" stroke-width="1.4"/>
<path d="M243.7 232.7L246.3 228.2L241.1 228.2Z" fill="#00bebe"/>
<path d="M247.81 222.7V229.9M246.22 222.7H249.41M246.22 229.9H249.41" fill="none" stroke="#00bebe" stroke-width="1.4"/>
<path d="M247.81 228.9L250.41 224.4L245.22 224.4Z" fill="#00bebe"/>
<path d="M251.93 212.5V219.3M250.33 212.5H253.53M250.33 219.3H253.53" fill="none" stroke="#00bebe" stroke-width="1.4"/>
<path d="M251.93 218.5L254.53 214L249.33 214Z" fill="#00bebe"/>
<path d="M256.05 215.4V222.2M254.45 215.4H257.65M254.45 222.2H257.65" fill="none" stroke="#00bebe" stroke-width="1.4"/>
<path d="M256.05 221.4L258.65 216.9L253.45 216.9Z" fill="#00bebe"/>
<path d="M260.16 203.2V209.2M258.56 203.2H261.76M258.56 209.2H261.76" fill="none" stroke="#00bebe" stroke-width="1.4"/>
<path d="M260.16 208.8L262.76 204.3L257.56 204.3Z" fill="#00bebe"/>
<path d="M264.28 200.2V205.8M262.68 200.2H265.88M262.68 205.8H265.88" fill="none" stroke="#00bebe" stroke-width="1.4"/>
<path d="M264.28 205.6L266.88 201.1L261.68 201.1Z" fill="#00bebe"/>
<path d="M268.39 195V200.2M266.79 195H269.99M266.79 200.2H269.99" fill="none" stroke="#00bebe" stroke-width="1.4"/>
<path d="M268.39 200.2L270.99 195.7L265.79 195.7Z" fill="#00bebe"/>
<path d="M272.5 189V193.8M270.9 189H274.11M270.9 193.8H274.11" fill="none" stroke="#00bebe" stroke-width="1.4"/>
<path d="M272.5 194L275.11 189.5L269.9 189.5Z" fill="#00bebe"/>
<path d="M276.62 182.7V187.1M275.02 182.7H278.22M275.02 187.1H278.22" fill="none" stroke="#00bebe" stroke-width="1.4"/>
<path d="M276.62 187.5L279.22 183L274.02 183Z" fill="#00bebe"/>
<path d="M280.74 182.1V186.5M279.13 182.1H282.34M279.13 186.5H282.34" fill="none" stroke="#00bebe" stroke-width="1.4"/>
<path d="M280.74 186.9L283.34 182.4L278.13 182.4Z" fill="#00bebe"/>
<path d="M284.85 181.4V185.4M283.25 181.4H286.45M283.25 185.4H286.45" fill="none" stroke="#00bebe" stroke-width="1.4"/>
<path d="M284.85 186L287.45 181.5L282.25 181.5Z" fill="#00bebe"/>
<path d="M288.97 175.9V179.5M287.37 175.9H290.57M287.37 179.5H290.57" fill="none" stroke="#00bebe" stroke-width="1.4"/>
<path d="M288.97 180.3L291.57 175.8L286.37 175.8Z" fill="#00bebe"/>
<path d="M293.08 177V180.2M291.48 177H294.68M291.48 180.2H294.68" fill="none" stroke="#00bebe" stroke-width="1.4"/>
<path d="M293.08 181.2L295.68 176.7L290.48 176.7Z" fill="#00bebe"/>
<path d="M297.19 173.26V176.06M295.59 173.26H298.8M295.59 176.06H298.8" fill="none" stroke="#00bebe" stroke-width="1.4"/>
<path d="M297.19 177.26L299.8 172.76L294.59 172.76Z" fill="#00bebe"/>
<path d="M301.31 170.53V172.92M299.71 170.53H302.91M299.71 172.92H302.91" fill="none" stroke="#00bebe" stroke-width="1.4"/>
<path d="M301.31 174.33L303.91 169.82L298.71 169.82Z" fill="#00bebe"/>
<path d="M305.43 169.79V171.79M303.82 169.79H307.03M303.82 171.79H307.03" fill="none" stroke="#00bebe" stroke-width="1.4"/>
<path d="M305.43 173.39L308.03 168.89L302.82 168.89Z" fill="#00bebe"/>
<path d="M309.54 166.05V167.65M307.94 166.05H311.14M307.94 167.65H311.14" fill="none" stroke="#00bebe" stroke-width="1.4"/>
<path d="M309.54 169.45L312.14 164.95L306.94 164.95Z" fill="#00bebe"/>
<path d="M313.66 164.61L316.26 160.11L311.06 160.11Z" fill="#00bebe"/>
<path d="M317.77 162.98L320.37 158.47L315.17 158.47Z" fill="#00bebe"/>
<path d="M321.88 157.04L324.49 152.54L319.28 152.54Z" fill="#00bebe"/>
<path d="M326 154.2L328.6 149.7L323.4 149.7Z" fill="#00bebe"/>
<path d="M330.12 148.2L332.72 143.7L327.51 143.7Z" fill="#00bebe"/>
<path d="M334.23 143.9L336.83 139.4L331.63 139.4Z" fill="#00bebe"/>
<path d="M338.35 137.3L340.95 132.8L335.75 132.8Z" fill="#00bebe"/>
<path d="M342.46 133.7L345.06 129.2L339.86 129.2Z" fill="#00bebe"/>
<path d="M346.57 127.6L349.18 123.1L343.97 123.1Z" fill="#00bebe"/>
<path d="M350.69 121.1L353.29 116.6L348.09 116.6Z" fill="#00bebe"/>
<path d="M354.81 115.7L357.41 111.2L352.2 111.2Z" fill="#00bebe"/>
<path d="M358.92 109.5L361.52 105L356.32 105Z" fill="#00bebe"/>
<path d="M363.04 103.6L365.64 99.1L360.44 99.1Z" fill="#00bebe"/>
<path d="M367.15 97.7L369.75 93.2L364.55 93.2Z" fill="#00bebe"/>
<path d="M371.26 91.9L373.87 87.4L368.66 87.4Z" fill="#00bebe"/>
<path d="M375.38 86.55L377.98 82.05L372.78 82.05Z" fill="#00bebe"/>
<path d="M379.5 81.4L382.1 76.9L376.89 76.9Z" fill="#00bebe"/>
<path d="M383.61 77.15L386.21 72.65L381.01 72.65Z" fill="#00bebe"/>
<path d="M387.73 73.1L390.33 68.6L385.12 68.6Z" fill="#00bebe"/>
<line x1="37.9" x2="402.7" y1="50.3" y2="50.3" stroke="#55555b" stroke-width="1.4"/>
<path d="M37.9 50.76L38.9 50.77L39.9 50.79L40.9 50.8L41.9 50.81L42.9 50.83L43.9 50.84L44.9 50.86L45.9 50.87L46.9 50.89L47.9 50.9L48.9 50.92L49.9 50.94L50.9 50.96L51.9 50.97L52.9 50.99L53.9 51.01L54.9 51.03L55.9 51.05L56.9 51.07L57.9 51.09L58.9 51.11L59.9 51.14L60.9 51.16L61.9 51.18L62.9 51.21L63.9 51.23L64.9 51.26L65.9 51.29L66.9 51.31L67.9 51.34L68.9 51.37L69.9 51.4L70.9 51.43L71.9 51.46L72.9 51.49L73.9 51.52L74.9 51.56L75.9 51.59L76.9 51.63L77.9 51.66L78.9 51.7L79.9 51.74L80.9 51.78L81.9 51.82L82.9 51.86L83.9 51.91L84.9 51.95L85.9 52L86.9 52.04L87.9 52.09L88.9 52.14L89.9 52.19L90.9 52.24L91.9 52.3L92.9 52.35L93.9 52.41L94.9 52.47L95.9 52.53L96.9 52.59L97.9 52.65L98.9 52.71L99.9 52.78L100.9 52.85L101.9 52.92L102.9 52.99L103.9 53.07L104.9 53.14L105.9 53.22L106.9 53.3L107.9 53.38L108.9 53.47L109.9 53.56L110.9 53.65L111.9 53.74L112.9 53.83L113.9 53.93L114.9 54.03L115.9 54.13L116.9 54.24L117.9 54.35L118.9 54.46L119.9 54.57L120.9 54.69L121.9 54.81L122.9 54.93L123.9 55.06L124.9 55.19L125.9 55.33L126.9 55.47L127.9 55.61L128.9 55.76L129.9 55.91L130.9 56.06L131.9 56.22L132.9 56.38L133.9 56.55L134.9 56.72L135.9 56.9L136.9 57.08L137.9 57.27L138.9 57.46L139.9 57.66L140.9 57.86L141.9 58.07L142.9 58.28L143.9 58.5L144.9 58.73L145.9 58.96L146.9 59.2L147.9 59.44L148.9 59.69L149.9 59.95L150.9 60.22L151.9 60.49L152.9 60.77L153.9 61.06L154.9 61.36L155.9 61.66L156.9 61.97L157.9 62.29L158.9 62.63L159.9 62.96L160.9 63.31L161.9 63.67L162.9 64.04L163.9 64.42L164.9 64.81L165.9 65.21L166.9 65.62L167.9 66.04L168.9 66.47L169.9 66.92L170.9 67.38L171.9 67.85L172.9 68.33L173.9 68.83L174.9 69.34L175.9 69.86L176.9 70.4L177.9 70.95L178.9 71.52L179.9 72.11L180.9 72.71L181.9 73.32L182.9 73.96L183.9 74.61L184.9 75.28L185.9 75.97L186.9 76.67L187.9 77.4L188.9 78.15L189.9 78.91L190.9 79.7L191.9 80.51L192.9 81.34L193.9 82.2L194.9 83.08L195.9 83.98L196.9 84.91L197.9 85.86L198.9 86.84L199.9 87.85L200.9 88.88L201.9 89.94L202.9 91.03L203.9 92.16L204.9 93.31L205.9 94.49L206.9 95.71L207.9 96.96L208.9 98.25L209.9 99.57L210.9 100.92L211.9 102.32L212.9 103.75L213.9 105.22L214.9 106.74L215.9 108.29L216.9 109.89L217.9 111.53L218.9 113.22L219.9 114.95L220.9 116.73L221.9 118.56L222.9 120.44L223.9 122.37L224.9 124.35L225.9 126.39L226.9 128.49L227.9 130.64L228.9 132.86L229.9 135.13L230.9 137.47L231.9 139.87L232.9 142.33L233.9 144.87L234.9 147.47L235.9 150.15L236.9 152.9L237.9 155.73L238.9 158.63L239.9 161.61L240.9 164.68L241.9 167.83L242.9 171.07L243.9 174.39L244.9 177.81L245.9 181.32L246.9 184.93L247.9 188.64L248.9 192.45L249.9 196.36L250.9 200.38L251.9 204.52L252.9 208.77L253.9 213.13L254.9 217.62L255.9 222.22L256.9 226.96L257.9 231.82L258.9 236.82L259.9 241.96L260.9 247.24L261.9 252.66L262.9 258.24L263.9 263.96L264.9 269.85L265.9 275.89L266.9 282.11L267.9 288.49L268.9 295.05L269.9 301.79L270.9 308.72L271.9 315.84L272.9 323.15L273.9 330.66L274.9 338.39" fill="none" stroke="#2036cc" stroke-width="1.9"/>
</g>
<path d="M38.19 308.1v-2.8M38.19 7.4v2.8M44.9 308.1v-2.8M44.9 7.4v2.8M50.57 308.1v-2.8M50.57 7.4v2.8M55.49 308.1v-2.8M55.49 7.4v2.8M59.82 308.1v-2.8M59.82 7.4v2.8M63.7 308.1v-5.4M63.7 7.4v5.4M89.21 308.1v-2.8M89.21 7.4v2.8M104.14 308.1v-2.8M104.14 7.4v2.8M114.72 308.1v-2.8M114.72 7.4v2.8M122.94 308.1v-2.8M122.94 7.4v2.8M129.65 308.1v-2.8M129.65 7.4v2.8M135.32 308.1v-2.8M135.32 7.4v2.8M140.24 308.1v-2.8M140.24 7.4v2.8M144.57 308.1v-2.8M144.57 7.4v2.8M148.45 308.1v-5.4M148.45 7.4v5.4M173.96 308.1v-2.8M173.96 7.4v2.8M188.89 308.1v-2.8M188.89 7.4v2.8M199.47 308.1v-2.8M199.47 7.4v2.8M207.69 308.1v-2.8M207.69 7.4v2.8M214.4 308.1v-2.8M214.4 7.4v2.8M220.07 308.1v-2.8M220.07 7.4v2.8M224.99 308.1v-2.8M224.99 7.4v2.8M229.32 308.1v-2.8M229.32 7.4v2.8M233.2 308.1v-5.4M233.2 7.4v5.4M258.71 308.1v-2.8M258.71 7.4v2.8M273.64 308.1v-2.8M273.64 7.4v2.8M284.22 308.1v-2.8M284.22 7.4v2.8M292.44 308.1v-2.8M292.44 7.4v2.8M299.15 308.1v-2.8M299.15 7.4v2.8M304.82 308.1v-2.8M304.82 7.4v2.8M309.74 308.1v-2.8M309.74 7.4v2.8M314.07 308.1v-2.8M314.07 7.4v2.8M317.95 308.1v-5.4M317.95 7.4v5.4M343.46 308.1v-2.8M343.46 7.4v2.8M358.39 308.1v-2.8M358.39 7.4v2.8M368.97 308.1v-2.8M368.97 7.4v2.8M377.19 308.1v-2.8M377.19 7.4v2.8M383.9 308.1v-2.8M383.9 7.4v2.8M389.57 308.1v-2.8M389.57 7.4v2.8M394.49 308.1v-2.8M394.49 7.4v2.8M398.82 308.1v-2.8M398.82 7.4v2.8M402.7 308.1v-5.4M402.7 7.4v5.4M37.9 308.04h5.4M402.7 308.04h-5.4M37.9 286.56h2.8M402.7 286.56h-2.8M37.9 265.08h5.4M402.7 265.08h-5.4M37.9 243.61h2.8M402.7 243.61h-2.8M37.9 222.13h5.4M402.7 222.13h-5.4M37.9 200.65h2.8M402.7 200.65h-2.8M37.9 179.17h5.4M402.7 179.17h-5.4M37.9 157.69h2.8M402.7 157.69h-2.8M37.9 136.21h5.4M402.7 136.21h-5.4M37.9 114.74h2.8M402.7 114.74h-2.8M37.9 93.26h5.4M402.7 93.26h-5.4M37.9 71.78h2.8M402.7 71.78h-2.8M37.9 50.3h5.4M402.7 50.3h-5.4M37.9 28.82h2.8M402.7 28.82h-2.8M37.9 7.34h5.4M402.7 7.34h-5.4" stroke="#505050" stroke-width="0.95" fill="none"/>
<rect x="37.9" y="7.4" width="364.8" height="300.70000000000005" fill="none" stroke="#5a5a5a" stroke-width="1"/>
<text x="34.8" y="311.54" font-size="9.4" text-anchor="end">−600</text>
<text x="34.8" y="268.58" font-size="9.4" text-anchor="end">−500</text>
<text x="34.8" y="225.63" font-size="9.4" text-anchor="end">−400</text>
<text x="34.8" y="182.67" font-size="9.4" text-anchor="end">−300</text>
<text x="34.8" y="139.71" font-size="9.4" text-anchor="end">−200</text>
<text x="34.8" y="96.76" font-size="9.4" text-anchor="end">−100</text>
<text x="34.8" y="53.8" font-size="9.4" text-anchor="end">0</text>
<text x="34.8" y="10.84" font-size="9.4" text-anchor="end">100</text>
<text x="63.7" y="318.7" font-size="9.4" text-anchor="middle">0.01</text>
<text x="148.45" y="318.7" font-size="9.4" text-anchor="middle">0.1</text>
<text x="233.2" y="318.7" font-size="9.4" text-anchor="middle">1</text>
<text x="317.95" y="318.7" font-size="9.4" text-anchor="middle">10</text>
<text x="403.7" y="318.7" font-size="9.4" text-anchor="middle">100</text>
<text x="220.4" y="331.1" font-size="10.05" text-anchor="middle">separation (Mpc/h)</text>
<text transform="translate(10.9 158) rotate(-90)" font-size="10.15" text-anchor="middle">average pairwise velocity (km/s)</text>
<rect x="48.0" y="215.6" width="129.0" height="81.8" fill="#fff" stroke="#858585" stroke-width="1.25"/>
<circle cx="59.2" cy="223" r="1.85" fill="#fff" stroke="#e6281e" stroke-width="1.6"/>
<path d="M59.2 234.38L61.3 238.01L57.1 238.01Z" fill="#fff" stroke="#4caf50" stroke-width="1.55" stroke-linejoin="miter"/>
<path d="M59.2 247.2L61.8 251.7L56.6 251.7Z" fill="#ab5fc8"/>
<path d="M59.2 266.22L61.3 262.59L57.1 262.59Z" fill="#fff" stroke="#ff8c0a" stroke-width="1.55" stroke-linejoin="miter"/>
<path d="M59.2 280.2L61.8 275.7L56.6 275.7Z" fill="#00bebe"/>
<line x1="52.3" x2="65.9" y1="290.8" y2="290.8" stroke="#2036cc" stroke-width="1.8"/>
<text x="70.8" y="226.3" font-size="9.3">No mass cut</text>
<text x="70.8" y="239.8" font-size="9.3">Mass &gt; 8.6×10<tspan dy="-4.9" dx="0.2" font-size="7.0">10</tspan><tspan dy="4.9" font-size="9.3"> M</tspan><tspan dy="1.3" font-size="7.0">sun</tspan><tspan dy="-1.3" font-size="9.3">/h</tspan></text>
<text x="70.8" y="253.1" font-size="9.3">Mass &gt; 4.3×10<tspan dy="-4.9" dx="0.2" font-size="7.0">11</tspan><tspan dy="4.9" font-size="9.3"> M</tspan><tspan dy="1.3" font-size="7.0">sun</tspan><tspan dy="-1.3" font-size="9.3">/h</tspan></text>
<text x="70.8" y="266.7" font-size="9.3">Mass &gt; 8.6×10<tspan dy="-4.9" dx="0.2" font-size="7.0">11</tspan><tspan dy="4.9" font-size="9.3"> M</tspan><tspan dy="1.3" font-size="7.0">sun</tspan><tspan dy="-1.3" font-size="9.3">/h</tspan></text>
<text x="70.8" y="280.1" font-size="9.3">Mass &gt; 4.3×10<tspan dy="-4.9" dx="0.2" font-size="7.0">12</tspan><tspan dy="4.9" font-size="9.3"> M</tspan><tspan dy="1.3" font-size="7.0">sun</tspan><tspan dy="-1.3" font-size="9.3">/h</tspan></text>
<text x="70.8" y="293.3" font-size="9.3">Static solution</text></svg>
</body></html>
